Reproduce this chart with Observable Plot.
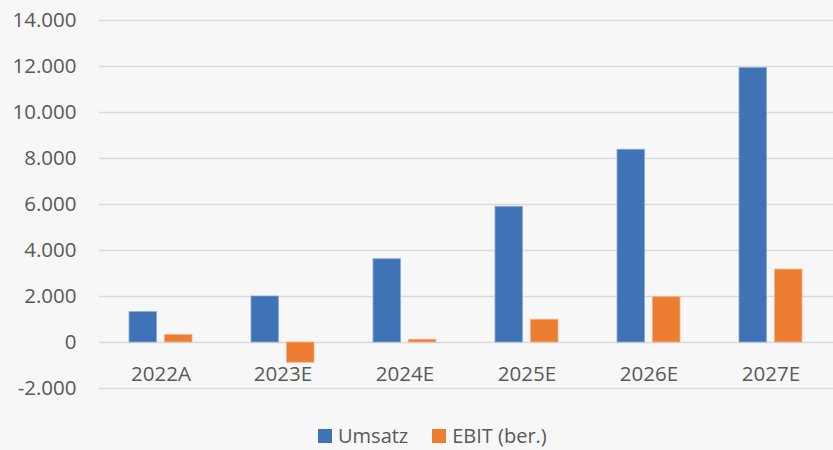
<!DOCTYPE html>
<html>
<head>
<meta charset="utf-8">
<script src="https://cdn.jsdelivr.net/npm/d3@7"></script>
<script src="https://cdn.jsdelivr.net/npm/@observablehq/plot@0.6"></script>
<style>
  html, body { margin: 0; padding: 0; background: #f7f7f7; }
  body { width: 833px; height: 450px; overflow: hidden; font-family: "Open Sans", sans-serif; }
  #legend { display: flex; align-items: center; padding-left: 318px; padding-top: 14px; height: 24px; line-height: 24px; color: #595959; font-size: 20px; }
  .sw { width: 14px; height: 14px; display: inline-block; margin-right: 6px; }
  .item { display: flex; align-items: center; margin-right: 24px; }
</style>
</head>
<body>
<div id="chart"></div>
<div id="legend"></div>
<script>
const categories = ["2022A", "2023E", "2024E", "2025E", "2026E", "2027E"];
const umsatz = [1320, 2000, 3620, 5900, 8380, 11930];
const ebit = [330, -880, 120, 990, 1970, 3170];
const seriesNames = ["Umsatz", "EBIT (ber.)"];
const seriesColors = ["#3f73b5", "#ed7d31"];
const yTicks = [-2000, 0, 2000, 4000, 6000, 8000, 10000, 12000, 14000];

const rows = [];
categories.forEach((c, i) => {
  rows.push({cat: c, series: seriesNames[0], value: umsatz[i]});
  rows.push({cat: c, series: seriesNames[1], value: ebit[i]});
});

const de = d3.formatLocale({decimal: ",", thousands: ".", grouping: [3], currency: ["", " €"], minus: "-"});
const fmt = de.format(",d");

const chart = Plot.plot({
  width: 833,
  height: 410,
  marginTop: 20,
  marginBottom: 22,
  marginLeft: 99,
  marginRight: 0,
  style: {background: "#f7f7f7", fontFamily: "Open Sans, sans-serif", fontSize: "20.5px", color: "#595959"},
  x: {domain: categories, paddingInner: 0.48, paddingOuter: 0.24, axis: null},
  y: {domain: [-2000, 14000], ticks: yTicks, tickFormat: fmt, tickSize: 0, tickPadding: 23, label: null},
  color: {domain: seriesNames, range: seriesColors},
  marks: [
    Plot.ruleY(yTicks, {stroke: "#d9d9d9", strokeWidth: 1.6}),
    Plot.barY(rows.filter(d => d.series === seriesNames[0]), {x: "cat", y: "value", fill: "series", insetRight: 35.5, stroke: "#8aaad6", strokeWidth: 0.8}),
    Plot.barY(rows.filter(d => d.series === seriesNames[1]), {x: "cat", y: "value", fill: "series", insetLeft: 35.5, stroke: "#f3b08a", strokeWidth: 0.8}),
    Plot.text(categories, {x: d => d, y: () => 0, text: d => d, dy: 32, fill: "#595959", fontSize: 20.5})
  ]
});
document.getElementById("chart").appendChild(chart);

const legend = document.getElementById("legend");
seriesNames.forEach((s, i) => {
  const item = document.createElement("div");
  item.className = "item";
  const sw = document.createElement("span");
  sw.className = "sw";
  sw.style.background = seriesColors[i];
  const t = document.createElement("span");
  t.textContent = s;
  item.appendChild(sw);
  item.appendChild(t);
  legend.appendChild(item);
});
</script>
</body>
</html>
